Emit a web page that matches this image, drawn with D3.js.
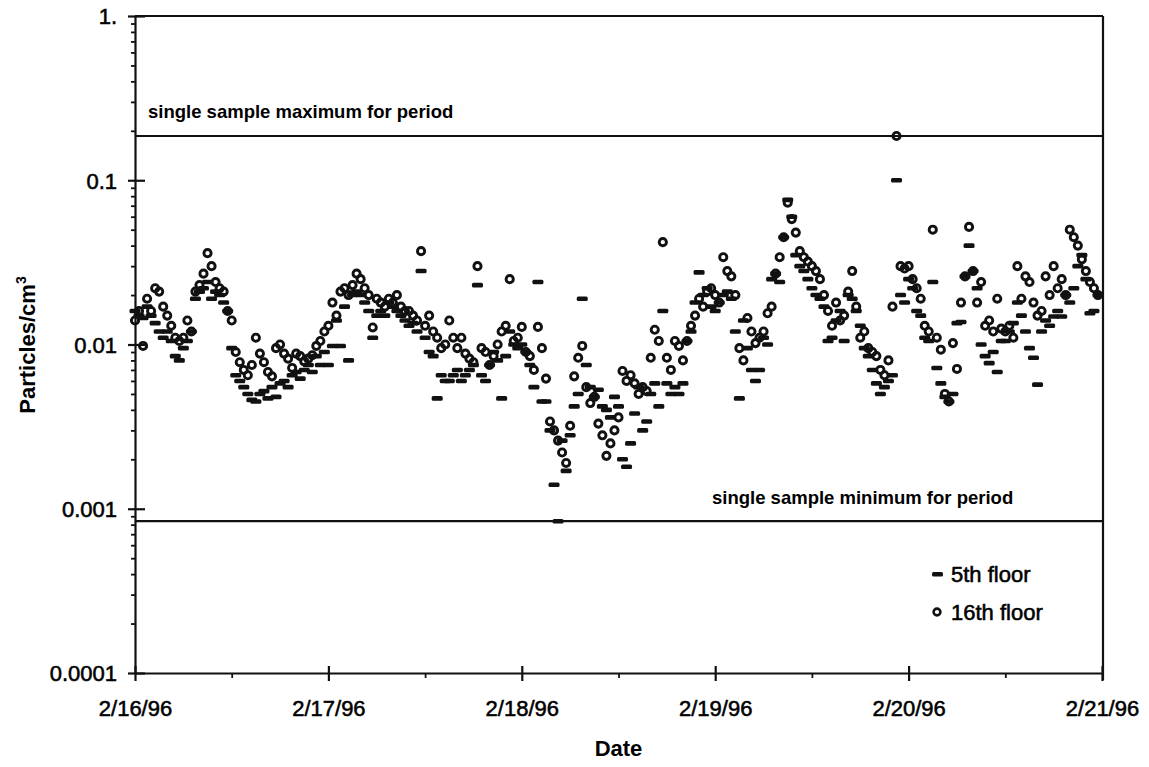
<!DOCTYPE html>
<html>
<head>
<meta charset="utf-8">
<script src="https://cdn.jsdelivr.net/npm/d3@7"></script>
<style>
  body { margin: 0; background: #fff; }
  svg text { font-family: "Liberation Sans", Arial, Helvetica, sans-serif; fill: #000; }
  svg text.heavy { stroke: #000; stroke-width: 0.55px; }
</style>
</head>
<body>
<svg id="chart" width="1149" height="767"></svg>
<script>
// Particle concentrations (particles/cm3), one sample every 30 minutes,
// starting at midnight of each day.
const startDate = new Date(1996, 1, 16);
const endDate = new Date(1996, 1, 21);
const sampleMinutes = 30;

const yTickValues = [1, 0.1, 0.01, 0.001, 0.0001];
const yTickLabels = ["1.", "0.1", "0.01", "0.001", "0.0001"];
const seriesNames = ["5th floor", "16th floor"];

// 5th floor
const floor5Feb16 = [
  0.016, 0.015, 0.0145, 0.017, 0.015, 0.0135, 0.012, 0.011, 0.012, 0.0105, 0.0085, 0.008,
  0.0095, 0.0105, 0.012, 0.019, 0.021, 0.022, 0.024, 0.019, 0.021, 0.020, 0.018, 0.016,
  0.0095, 0.0065, 0.006, 0.0055, 0.005, 0.0046, 0.0045, 0.005, 0.0052, 0.0047, 0.0055, 0.0048,
  0.0058, 0.006, 0.0055, 0.0065, 0.0068, 0.0062, 0.007, 0.0075, 0.0068, 0.0085, 0.0075, 0.009
];
const floor5Feb17 = [
  0.0075, 0.0098, 0.014, 0.0098, 0.017, 0.008, 0.020, 0.021, 0.020, 0.018, 0.016, 0.011,
  0.015, 0.016, 0.015, 0.018, 0.017, 0.016, 0.015, 0.014, 0.013, 0.0135, 0.012, 0.028,
  0.011, 0.009, 0.0085, 0.0047, 0.0065, 0.006, 0.006, 0.0065, 0.007, 0.006, 0.0065, 0.007,
  0.0075, 0.023, 0.0065, 0.006, 0.0075, 0.009, 0.008, 0.0047, 0.0085, 0.012, 0.010, 0.0095
];
const floor5Feb18 = [
  0.010, 0.009, 0.0075, 0.0055, 0.024, 0.0045, 0.0045, 0.003, 0.0014, 0.00084, 0.0026, 0.0017,
  0.0028, 0.0042, 0.005, 0.019, 0.0075, 0.0055, 0.0048, 0.0053, 0.0042, 0.004, 0.0036, 0.0048,
  0.0042, 0.002, 0.0018, 0.0025, 0.0038, 0.0055, 0.003, 0.0034, 0.005, 0.0058, 0.0042, 0.016,
  0.0058, 0.005, 0.0055, 0.005, 0.0058, 0.0105, 0.012, 0.018, 0.0275, 0.020, 0.022, 0.017
];
const floor5Feb19 = [
  0.016, 0.018, 0.020, 0.021, 0.019, 0.012, 0.0047, 0.014, 0.0095, 0.007, 0.006, 0.007,
  0.011, 0.010, 0.025, 0.027, 0.024, 0.045, 0.076, 0.060, 0.035, 0.030, 0.028, 0.025,
  0.022, 0.020, 0.019, 0.017, 0.0105, 0.011, 0.014, 0.016, 0.0105, 0.020, 0.019, 0.016,
  0.013, 0.0095, 0.0085, 0.007, 0.0058, 0.005, 0.0055, 0.006, 0.0065, 0.100, 0.020, 0.018
];
const floor5Feb20 = [
  0.025, 0.022, 0.016, 0.015, 0.011, 0.0105, 0.024, 0.0072, 0.0058, 0.0048, 0.0045, 0.005,
  0.0135, 0.0137, 0.026, 0.040, 0.028, 0.022, 0.010, 0.0085, 0.0077, 0.009, 0.0068, 0.0105,
  0.0105, 0.012, 0.0135, 0.018, 0.015, 0.012, 0.0095, 0.0083, 0.0057, 0.012, 0.014, 0.013,
  0.0148, 0.016, 0.0148, 0.020, 0.018, 0.022, 0.030, 0.035, 0.025, 0.0155, 0.016, 0.020
];

// 16th floor
const floor16Feb16 = [
  0.014, 0.016, 0.0098, 0.019, 0.016, 0.022, 0.021, 0.017, 0.015, 0.013, 0.011, 0.0105,
  0.011, 0.014, 0.012, 0.021, 0.023, 0.027, 0.036, 0.030, 0.024, 0.022, 0.021, 0.016,
  0.014, 0.009, 0.0078, 0.007, 0.0065, 0.0075, 0.011, 0.0088, 0.0078, 0.0068, 0.0064, 0.0095,
  0.010, 0.0088, 0.0082, 0.0072, 0.0088, 0.0085, 0.0079, 0.0082, 0.0086, 0.0098, 0.0105, 0.012
];
const floor16Feb17 = [
  0.013, 0.018, 0.015, 0.021, 0.022, 0.020, 0.023, 0.027, 0.025, 0.022, 0.020, 0.0127,
  0.019, 0.018, 0.017, 0.019, 0.018, 0.020, 0.017, 0.016, 0.016, 0.015, 0.014, 0.037,
  0.013, 0.015, 0.012, 0.011, 0.0095, 0.010, 0.014, 0.011, 0.0095, 0.011, 0.0088, 0.0082,
  0.0078, 0.030, 0.0095, 0.009, 0.0075, 0.0085, 0.010, 0.012, 0.013, 0.025, 0.0105, 0.011
];
const floor16Feb18 = [
  0.0128, 0.009, 0.0085, 0.007, 0.0128, 0.0095, 0.0062, 0.0034, 0.003, 0.0026, 0.0022, 0.0019,
  0.0032, 0.0064, 0.0083, 0.0098, 0.0055, 0.0044, 0.0048, 0.0033, 0.0028, 0.0021, 0.0025, 0.003,
  0.0036, 0.0069, 0.006, 0.0065, 0.0058, 0.005, 0.0055, 0.0052, 0.0083, 0.0123, 0.0105, 0.042,
  0.0083, 0.007, 0.0105, 0.0098, 0.008, 0.0105, 0.013, 0.015, 0.019, 0.017, 0.021, 0.022
];
const floor16Feb19 = [
  0.020, 0.018, 0.034, 0.028, 0.026, 0.020, 0.0095, 0.008, 0.0145, 0.012, 0.0102, 0.011,
  0.012, 0.0155, 0.017, 0.027, 0.034, 0.045, 0.073, 0.058, 0.048, 0.037, 0.034, 0.032,
  0.030, 0.028, 0.025, 0.020, 0.016, 0.013, 0.018, 0.014, 0.015, 0.021, 0.028, 0.017,
  0.011, 0.012, 0.0095, 0.009, 0.0085, 0.007, 0.0065, 0.008, 0.017, 0.186, 0.030, 0.029
];
const floor16Feb20 = [
  0.030, 0.025, 0.022, 0.019, 0.013, 0.012, 0.050, 0.011, 0.0093, 0.005, 0.0045, 0.0102,
  0.0071, 0.018, 0.026, 0.052, 0.028, 0.018, 0.024, 0.013, 0.014, 0.012, 0.019, 0.0125,
  0.012, 0.013, 0.011, 0.030, 0.019, 0.026, 0.024, 0.018, 0.015, 0.016, 0.026, 0.020,
  0.030, 0.022, 0.025, 0.020, 0.050, 0.045, 0.040, 0.033, 0.028, 0.024, 0.022, 0.020
];

const floor5 = [].concat(floor5Feb16, floor5Feb17, floor5Feb18, floor5Feb19, floor5Feb20);
const floor16 = [].concat(floor16Feb16, floor16Feb17, floor16Feb18, floor16Feb19, floor16Feb20);

const toPoints = vals => vals.map((v, i) => ({ t: d3.timeMinute.offset(startDate, i * sampleMinutes), v }));
const pts5 = toPoints(floor5);
const pts16 = toPoints(floor16);

// Single-sample extremes over the whole period
const allValues = floor5.concat(floor16);
const periodMax = d3.max(allValues);
const periodMin = d3.min(allValues);

// Plot geometry
const plotLeft = 135, plotRight = 1102, plotTop = 16, plotBottom = 673;

const svg = d3.select("#chart");

const x = d3.scaleTime().domain([startDate, endDate]).range([plotLeft, plotRight]);
const y = d3.scaleLog().domain([0.0001, 1]).range([plotBottom, plotTop]);

const ink = "#111";

// Frame (top and right)
svg.append("line").attr("x1", plotLeft).attr("x2", plotRight + 1).attr("y1", plotTop).attr("y2", plotTop)
  .attr("stroke", ink).attr("stroke-width", 2.2);
svg.append("line").attr("x1", plotRight + 1).attr("x2", plotRight + 1).attr("y1", plotTop).attr("y2", plotBottom + 7)
  .attr("stroke", ink).attr("stroke-width", 2.2);

// Y axis: decade ticks crossing the axis, minor ticks outside
const yMinor = [];
for (let e = -4; e < 0; e++) for (let k = 2; k <= 9; k++) yMinor.push(k * Math.pow(10, e));

const gyMinor = svg.append("g").attr("transform", `translate(${plotLeft},0)`)
  .call(d3.axisLeft(y).tickValues(yMinor).tickSize(4).tickFormat(""));
gyMinor.select(".domain").remove();
gyMinor.selectAll(".tick line").attr("stroke", ink).attr("stroke-width", 1.8);

const gy = svg.append("g").attr("transform", `translate(${plotLeft},0)`)
  .call(d3.axisLeft(y).tickValues(yTickValues).tickFormat((d, i) => yTickLabels[i]).tickSizeOuter(0));
gy.select(".domain").attr("stroke", ink).attr("stroke-width", 2.2);
gy.selectAll(".tick line").attr("x1", -7).attr("x2", 10).attr("stroke", ink).attr("stroke-width", 2.2);
gy.selectAll(".tick text").attr("x", -18).attr("dy", "0.36em").attr("class", "heavy")
  .style("font-size", "22px").style("font-family", "'Liberation Sans', Arial, sans-serif");

// X axis: day ticks crossing the axis, half-day minor ticks below
const halfDays = d3.timeHour.every(12).range(startDate, endDate).filter(d => d.getHours() === 12);
const gxMinor = svg.append("g").attr("transform", `translate(0,${plotBottom})`)
  .call(d3.axisBottom(x).tickValues(halfDays).tickSize(5).tickFormat(""));
gxMinor.select(".domain").remove();
gxMinor.selectAll(".tick line").attr("stroke", ink).attr("stroke-width", 1.8);

const gx = svg.append("g").attr("transform", `translate(0,${plotBottom})`)
  .call(d3.axisBottom(x).tickValues(d3.timeDay.range(startDate, d3.timeDay.offset(endDate, 1)))
    .tickFormat(d3.timeFormat("%-m/%-d/%y")).tickSizeOuter(0));
gx.select(".domain").attr("stroke", ink).attr("stroke-width", 2.2);
gx.selectAll(".tick line").attr("y1", -7).attr("y2", 8).attr("stroke", ink).attr("stroke-width", 2.2);
gx.selectAll(".tick text").attr("y", 27).attr("dy", "0.71em").attr("class", "heavy")
  .style("font-size", "22px").style("font-family", "'Liberation Sans', Arial, sans-serif");

// Period extremes
svg.append("line").attr("x1", plotLeft).attr("x2", plotRight + 1)
  .attr("y1", y(periodMax)).attr("y2", y(periodMax)).attr("stroke", ink).attr("stroke-width", 2.2);
svg.append("line").attr("x1", plotLeft).attr("x2", plotRight + 1)
  .attr("y1", y(periodMin)).attr("y2", y(periodMin)).attr("stroke", ink).attr("stroke-width", 2.2);

svg.append("text").attr("x", 148).attr("y", y(periodMax) - 18)
  .style("font-size", "18.5px").style("font-weight", "bold")
  .text("single sample maximum for period");
svg.append("text").attr("x", 712).attr("y", y(periodMin) - 17)
  .style("font-size", "18.5px").style("font-weight", "bold")
  .text("single sample minimum for period");

// 5th floor: short horizontal dashes
svg.append("g").selectAll("rect").data(pts5).join("rect")
  .attr("x", d => x(d.t) - 5.5).attr("y", d => y(d.v) - 2.3)
  .attr("width", 11).attr("height", 4.6).attr("rx", 1.5).attr("fill", ink);

// 16th floor: open circles
svg.append("g").selectAll("circle").data(pts16).join("circle")
  .attr("cx", d => x(d.t)).attr("cy", d => y(d.v)).attr("r", 3.6)
  .attr("fill", "none").attr("stroke", ink).attr("stroke-width", 2.9);

// Legend
const legend = svg.append("g");
legend.append("rect").attr("x", 932).attr("y", 572).attr("width", 11).attr("height", 4.5).attr("rx", 1.5).attr("fill", ink);
legend.append("text").attr("x", 951).attr("y", 582).attr("class", "heavy")
  .style("font-size", "22px").text(seriesNames[0]);
legend.append("circle").attr("cx", 937).attr("cy", 612).attr("r", 3.4)
  .attr("fill", "none").attr("stroke", ink).attr("stroke-width", 2.6);
legend.append("text").attr("x", 951).attr("y", 620).attr("class", "heavy")
  .style("font-size", "22px").text(seriesNames[1]);

// Axis titles
svg.append("text").attr("x", (plotLeft + plotRight) / 2).attr("y", 756).attr("text-anchor", "middle")
  .style("font-size", "22px").style("font-weight", "bold").text("Date");

const yTitle = svg.append("text").attr("transform", "translate(35,345) rotate(-90)")
  .attr("text-anchor", "middle").style("font-size", "22px").style("font-weight", "bold");
yTitle.append("tspan").text("Particles/cm");
yTitle.append("tspan").attr("dy", "-9").style("font-size", "14px").text("3");
</script>
</body>
</html>
